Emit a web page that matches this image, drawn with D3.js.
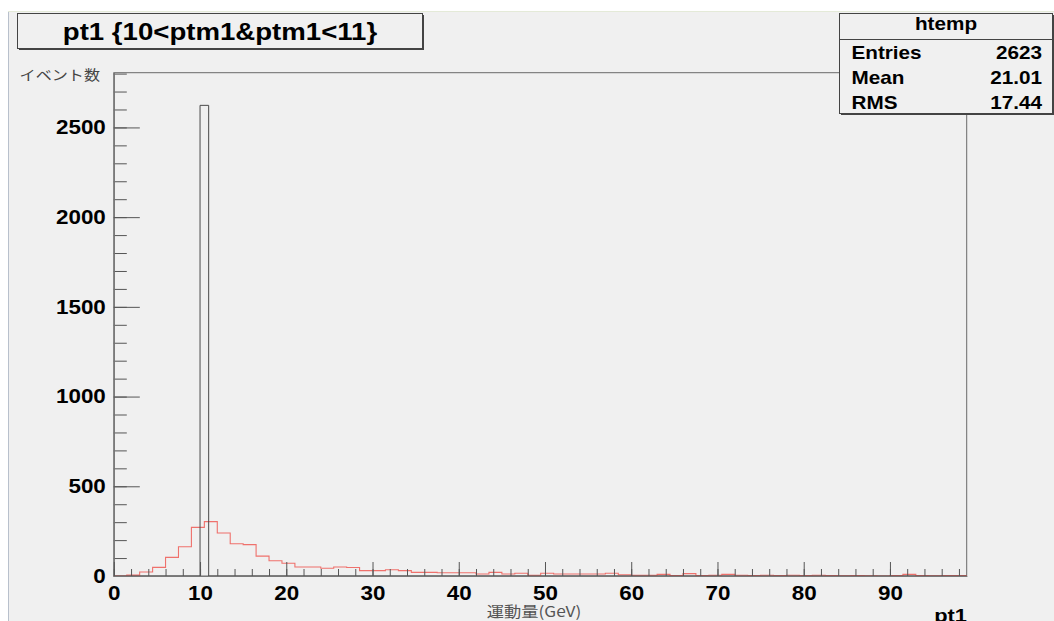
<!DOCTYPE html>
<html>
<head>
<meta charset="utf-8">
<script src="https://cdn.jsdelivr.net/npm/d3@7"></script>
<style>
  html, body { margin: 0; padding: 0; background: #ffffff; }
  svg { display: block; }
</style>
</head>
<body>
<svg id="chart" width="1054" height="621"></svg>
<script>
// pt1 distribution (GeV), events per bin
const titleText = "pt1 {10<ptm1&ptm1<11}";
const statsName = "htemp";
const statsLabels = ["Entries", "Mean", "RMS"];
const statsValues = ["2623", "21.01", "17.44"];

const xTickLabels = [0, 10, 20, 30, 40, 50, 60, 70, 80, 90];
const yTickLabels = [0, 500, 1000, 1500, 2000, 2500];

// selected events: a single filled bin
const blackBinLow = [10];
const blackBinHigh = [11];
const blackCounts = [2623];

// reference histogram, bins of 1.5 GeV starting at 0
const redBinWidth = 1.5;
const redCounts = [
  0, 5, 22, 48, 104, 163, 271, 303, 240, 180, 175, 111, 85, 71, 50, 50,
  43, 50, 47, 30, 30, 35, 30, 20, 20, 18, 18, 18, 11, 20, 11, 15,
  4, 15, 11, 11, 11, 11, 15, 7, 4, 4, 9, 3, 13, 3, 4, 9,
  4, 3, 4, 3, 4, 3, 4, 3, 1, 3, 1, 0, 3, 9, 3, 1,
  3, 2
];

const svg = d3.select("#chart");
const W = 1054, H = 621;
const STRETCH = 1.15;          // glyphs are drawn a little wider than the font's natural width
const tickFont = "'Liberation Sans', Arial, Helvetica, sans-serif";
const cjkFont = "'Noto Sans CJK JP', sans-serif";

// place a horizontally widened text with its anchor at (px, py)
function wideText(px, py, str, opts) {
  return svg.append("text")
    .attr("transform", `translate(${px},${py}) scale(${STRETCH},1)`)
    .attr("text-anchor", opts.anchor || "start")
    .attr("font-family", opts.family || tickFont)
    .attr("font-weight", opts.weight || "bold")
    .attr("font-size", opts.size)
    .attr("fill", opts.fill || "#000")
    .text(str);
}

// pad background
svg.append("rect").attr("x", 8).attr("y", 11).attr("width", W - 8).attr("height", H - 11)
  .attr("fill", "#f0f0f0");
svg.append("line").attr("x1", 8.5).attr("x2", 8.5).attr("y1", 11).attr("y2", H)
  .attr("stroke", "#b8c0cc").attr("stroke-width", 1);
svg.append("line").attr("x1", 8).attr("x2", W).attr("y1", 11.5).attr("y2", 11.5)
  .attr("stroke", "#e4ead8").attr("stroke-width", 1);

const fL = 113.8, fR = 966.7, fT = 72.7, fB = 576;
const x = d3.scaleLinear().domain([0, 98.9]).range([fL, fR]);
const y = d3.scaleLinear().domain([0, 2805]).range([fB, fT]);

// frame
svg.append("rect").attr("x", fL).attr("y", fT).attr("width", fR - fL).attr("height", fB - fT)
  .attr("fill", "none").attr("stroke", "#6a6a6a").attr("stroke-width", 1);

// red histogram outline
const redPts = [];
redCounts.forEach((c, i) => {
  const lo = i * redBinWidth, hi = Math.min((i + 1) * redBinWidth, 98.9);
  redPts.push([x(lo), y(c)], [x(hi), y(c)]);
});
svg.append("path")
  .attr("d", d3.line()(redPts))
  .attr("fill", "none").attr("stroke", "#ef5b55").attr("stroke-width", 1.1)
  .attr("stroke-opacity", 0.85);

// selected histogram outline
const blackPts = [[x(0), y(0)]];
blackCounts.forEach((c, i) => {
  blackPts.push([x(blackBinLow[i]), y(0)], [x(blackBinLow[i]), y(c)],
                [x(blackBinHigh[i]), y(c)], [x(blackBinHigh[i]), y(0)]);
});
blackPts.push([x(98.9), y(0)]);
svg.append("path")
  .attr("d", d3.line()(blackPts))
  .attr("fill", "none").attr("stroke", "#4a4a4a").attr("stroke-width", 1);

// y axis: major and minor ticks pointing into the frame
const yMinor = d3.range(0, 2801, 100);
const gyMinor = svg.append("g").attr("transform", `translate(${fL},0)`)
  .call(d3.axisLeft(y).tickValues(yMinor).tickSizeInner(-13).tickSizeOuter(0).tickFormat(""));
const gy = svg.append("g").attr("transform", `translate(${fL},0)`)
  .call(d3.axisLeft(y).tickValues(yTickLabels).tickSizeInner(-26).tickSizeOuter(0).tickPadding(8)
    .tickFormat(d3.format("d")));
[gyMinor, gy].forEach(g => {
  g.select(".domain").attr("stroke", "#777");
  g.selectAll(".tick line").attr("stroke", "#555");
});
gy.selectAll(".tick text")
  .attr("x", -8 / STRETCH)
  .attr("transform", `scale(${STRETCH},1)`)
  .attr("font-family", tickFont).attr("font-weight", "bold").attr("font-size", 19.5).attr("fill", "#000");

// x axis
const xMinor = d3.range(0, 99, 2);
const gxMinor = svg.append("g").attr("transform", `translate(0,${fB})`)
  .call(d3.axisBottom(x).tickValues(xMinor).tickSizeInner(-7).tickSizeOuter(0).tickFormat(""));
const gx = svg.append("g").attr("transform", `translate(0,${fB})`)
  .call(d3.axisBottom(x).tickValues(xTickLabels).tickSizeInner(-14).tickSizeOuter(0).tickPadding(10.5)
    .tickFormat(d3.format("d")));
[gxMinor, gx].forEach(g => {
  g.select(".domain").attr("stroke", "#777");
  g.selectAll(".tick line").attr("stroke", "#555");
});
gx.selectAll(".tick text")
  .attr("transform", `scale(${STRETCH},1)`)
  .attr("font-family", tickFont).attr("font-weight", "bold").attr("font-size", 19.5).attr("fill", "#000");

// axis titles
wideText(100, 80, "イベント数", { anchor: "end", family: cjkFont, weight: "normal", size: 14, fill: "#444" });
wideText(534, 617, "運動量(GeV)", { anchor: "middle", family: cjkFont, weight: "normal", size: 15, fill: "#555" });
wideText(967, 622, "pt1", { anchor: "end", size: 19 });

// title box
const tb = { x: 17.5, y: 13.5, w: 405, h: 35 };
svg.append("rect").attr("x", tb.x + 1.5).attr("y", tb.y + 1.5).attr("width", tb.w).attr("height", tb.h)
  .attr("fill", "#444");
svg.append("rect").attr("x", tb.x).attr("y", tb.y).attr("width", tb.w).attr("height", tb.h)
  .attr("fill", "#f0f0f0").attr("stroke", "#444").attr("stroke-width", 1);
wideText(tb.x + tb.w / 2, 40, titleText, { anchor: "middle", size: 24 });

// statistics box
const sb = { x: 839.5, y: 13.5, w: 213, h: 100 };
svg.append("rect").attr("x", sb.x + 1.5).attr("y", sb.y + 1.5).attr("width", sb.w).attr("height", sb.h)
  .attr("fill", "#444");
svg.append("rect").attr("x", sb.x).attr("y", sb.y).attr("width", sb.w).attr("height", sb.h)
  .attr("fill", "#f0f0f0").attr("stroke", "#444").attr("stroke-width", 1);
svg.append("line").attr("x1", sb.x).attr("x2", sb.x + sb.w).attr("y1", 39.5).attr("y2", 39.5)
  .attr("stroke", "#444").attr("stroke-width", 1);
wideText(sb.x + sb.w / 2, 30, statsName, { anchor: "middle", size: 18 });
const rowY = [58.5, 83.5, 109];
statsLabels.forEach((lab, i) => {
  wideText(851.5, rowY[i], lab, { size: 18 });
  wideText(1042, rowY[i], statsValues[i], { anchor: "end", size: 18 });
});
</script>
</body>
</html>
